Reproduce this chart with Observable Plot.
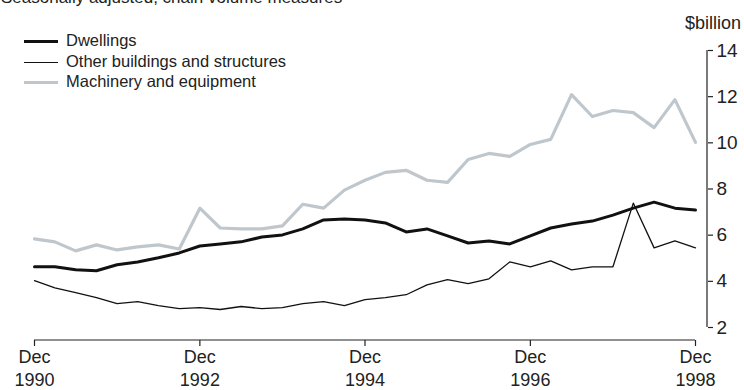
<!DOCTYPE html>
<html>
<head>
<meta charset="utf-8">
<script src="https://cdn.jsdelivr.net/npm/d3@7"></script>
<script src="https://cdn.jsdelivr.net/npm/@observablehq/plot@0.6"></script>
<style>
  body { margin: 0; background: #fff; font-family: "Liberation Sans", Arimo, Arial, sans-serif; color: #222; }
  #wrap { position: relative; width: 744px; height: 390px; overflow: hidden; }
  #wrap svg { position: absolute; left: 0; top: 0; }
  .txt { position: absolute; white-space: nowrap; }
  .row { position: absolute; left: 24px; height: 20px; line-height: 20px; font-size: 16.5px; white-space: nowrap; }
  .sw { display: inline-block; width: 34px; vertical-align: middle; margin-right: 8px; }
</style>
</head>
<body>
<div id="wrap"></div>
<script>
// ---- data ----
const seriesNames = ["Dwellings", "Other buildings and structures", "Machinery and equipment"];
const seriesColors = ["#111111", "#111111", "#bfc7cd"];
const seriesWidths = [3, 1.3, 3.2];
// quarterly, Dec 1990 .. Dec 1998 (33 quarters)
const quarters = d3.range(33).map(i => new Date(Date.UTC(1990, 11 + 3 * i, 1)));
const dwellings = [4.63, 4.63, 4.50, 4.46, 4.72, 4.84, 5.02, 5.23, 5.53, 5.62, 5.71, 5.92, 6.01, 6.27, 6.66, 6.70, 6.66,
  6.53, 6.14, 6.27, 5.97, 5.66, 5.75, 5.62, 5.97, 6.31, 6.48, 6.61, 6.87, 7.17, 7.43, 7.17, 7.09];
const otherBuildings = [4.03, 3.72, 3.51, 3.29, 3.03, 3.12, 2.95, 2.82, 2.86, 2.78, 2.91, 2.82, 2.86, 3.03, 3.12, 2.95, 3.21,
  3.29, 3.42, 3.85, 4.07, 3.90, 4.11, 4.84, 4.63, 4.89, 4.50, 4.63, 4.63, 7.39, 5.45, 5.75, 5.45];
const machinery = [5.84, 5.71, 5.32, 5.58, 5.36, 5.49, 5.58, 5.40, 7.17, 6.31, 6.27, 6.27, 6.40, 7.34, 7.17, 7.95, 8.38,
  8.72, 8.81, 8.38, 8.29, 9.28, 9.54, 9.41, 9.93, 10.15, 12.09, 11.14, 11.40, 11.31, 10.66, 11.87, 10.02];
const yTicks = [2, 4, 6, 8, 10, 12, 14];
const xTickYears = [1990, 1992, 1994, 1996, 1998];
const titleText = "Seasonally adjusted, chain volume measures";
const unitText = "$billion";

// ---- build ----
const valuesBySeries = [dwellings, otherBuildings, machinery];
const rows = [];
valuesBySeries.forEach((vals, s) => vals.forEach((v, i) => rows.push({date: quarters[i], value: v, series: seriesNames[s]})));
const xTicks = xTickYears.map(y => new Date(Date.UTC(y, 11, 1)));
const xDomain = [quarters[0], quarters[quarters.length - 1]];

const axisLines = (index, scales, values, dims) => {
  const g = d3.create("svg:g").attr("stroke", "#222").attr("stroke-width", 1.2).attr("fill", "none");
  const xr = dims.width - dims.marginRight;
  g.append("line").attr("x1", xr).attr("x2", xr).attr("y1", scales.y(yTicks[0])).attr("y2", scales.y(yTicks[yTicks.length - 1]));
  const yb = dims.height - dims.marginBottom;
  g.append("line").attr("y1", yb).attr("y2", yb).attr("x1", scales.x(xDomain[0])).attr("x2", scales.x(xDomain[1]));
  return g.node();
};

const chart = Plot.plot({
  width: 744,
  height: 390,
  marginLeft: 34,
  marginRight: 37,
  marginTop: 50,
  marginBottom: 50,
  style: {fontFamily: '"Liberation Sans", Arimo, Arial, sans-serif', color: "#222", background: "transparent"},
  x: {type: "utc", domain: xDomain, range: [34, 695]},
  y: {domain: [2, 14], range: [327, 50]},
  marks: [
    ...seriesNames.map((name, s) => Plot.line(rows.filter(d => d.series === name), {
      x: "date", y: "value", stroke: seriesColors[s], strokeWidth: seriesWidths[s], strokeLinejoin: "round"
    })),
    Plot.axisX({ticks: xTicks, tickFormat: d => "Dec\n" + d.getUTCFullYear(), tickSize: 6, tickPadding: 1,
      fontSize: 18, lineHeight: 1.25, label: null, strokeWidth: 1.2}),
    Plot.axisY({anchor: "right", ticks: yTicks, tickSize: 5, tickPadding: 4, fontSize: 19, label: null, strokeWidth: 1.2}),
    axisLines
  ]
});

const wrap = document.getElementById("wrap");
wrap.appendChild(chart);

const title = document.createElement("div");
title.className = "txt";
title.style.cssText = "left:1px;top:-10px;font-size:17px;line-height:16px;";
title.textContent = titleText;
wrap.appendChild(title);

const unit = document.createElement("div");
unit.className = "txt";
unit.style.cssText = "right:3px;top:12px;font-size:18px;line-height:22px;";
unit.textContent = unitText;
wrap.appendChild(unit);

const rowCenters = [40, 61, 81];
seriesNames.forEach((name, s) => {
  const r = document.createElement("div");
  r.className = "row";
  r.style.top = (rowCenters[s] - 10) + "px";
  const sw = document.createElement("span");
  sw.className = "sw";
  sw.style.height = (s === 1 ? 1.5 : 3.3) + "px";
  sw.style.background = seriesColors[s];
  r.appendChild(sw);
  r.appendChild(document.createTextNode(name));
  wrap.appendChild(r);
});
</script>
</body>
</html>
